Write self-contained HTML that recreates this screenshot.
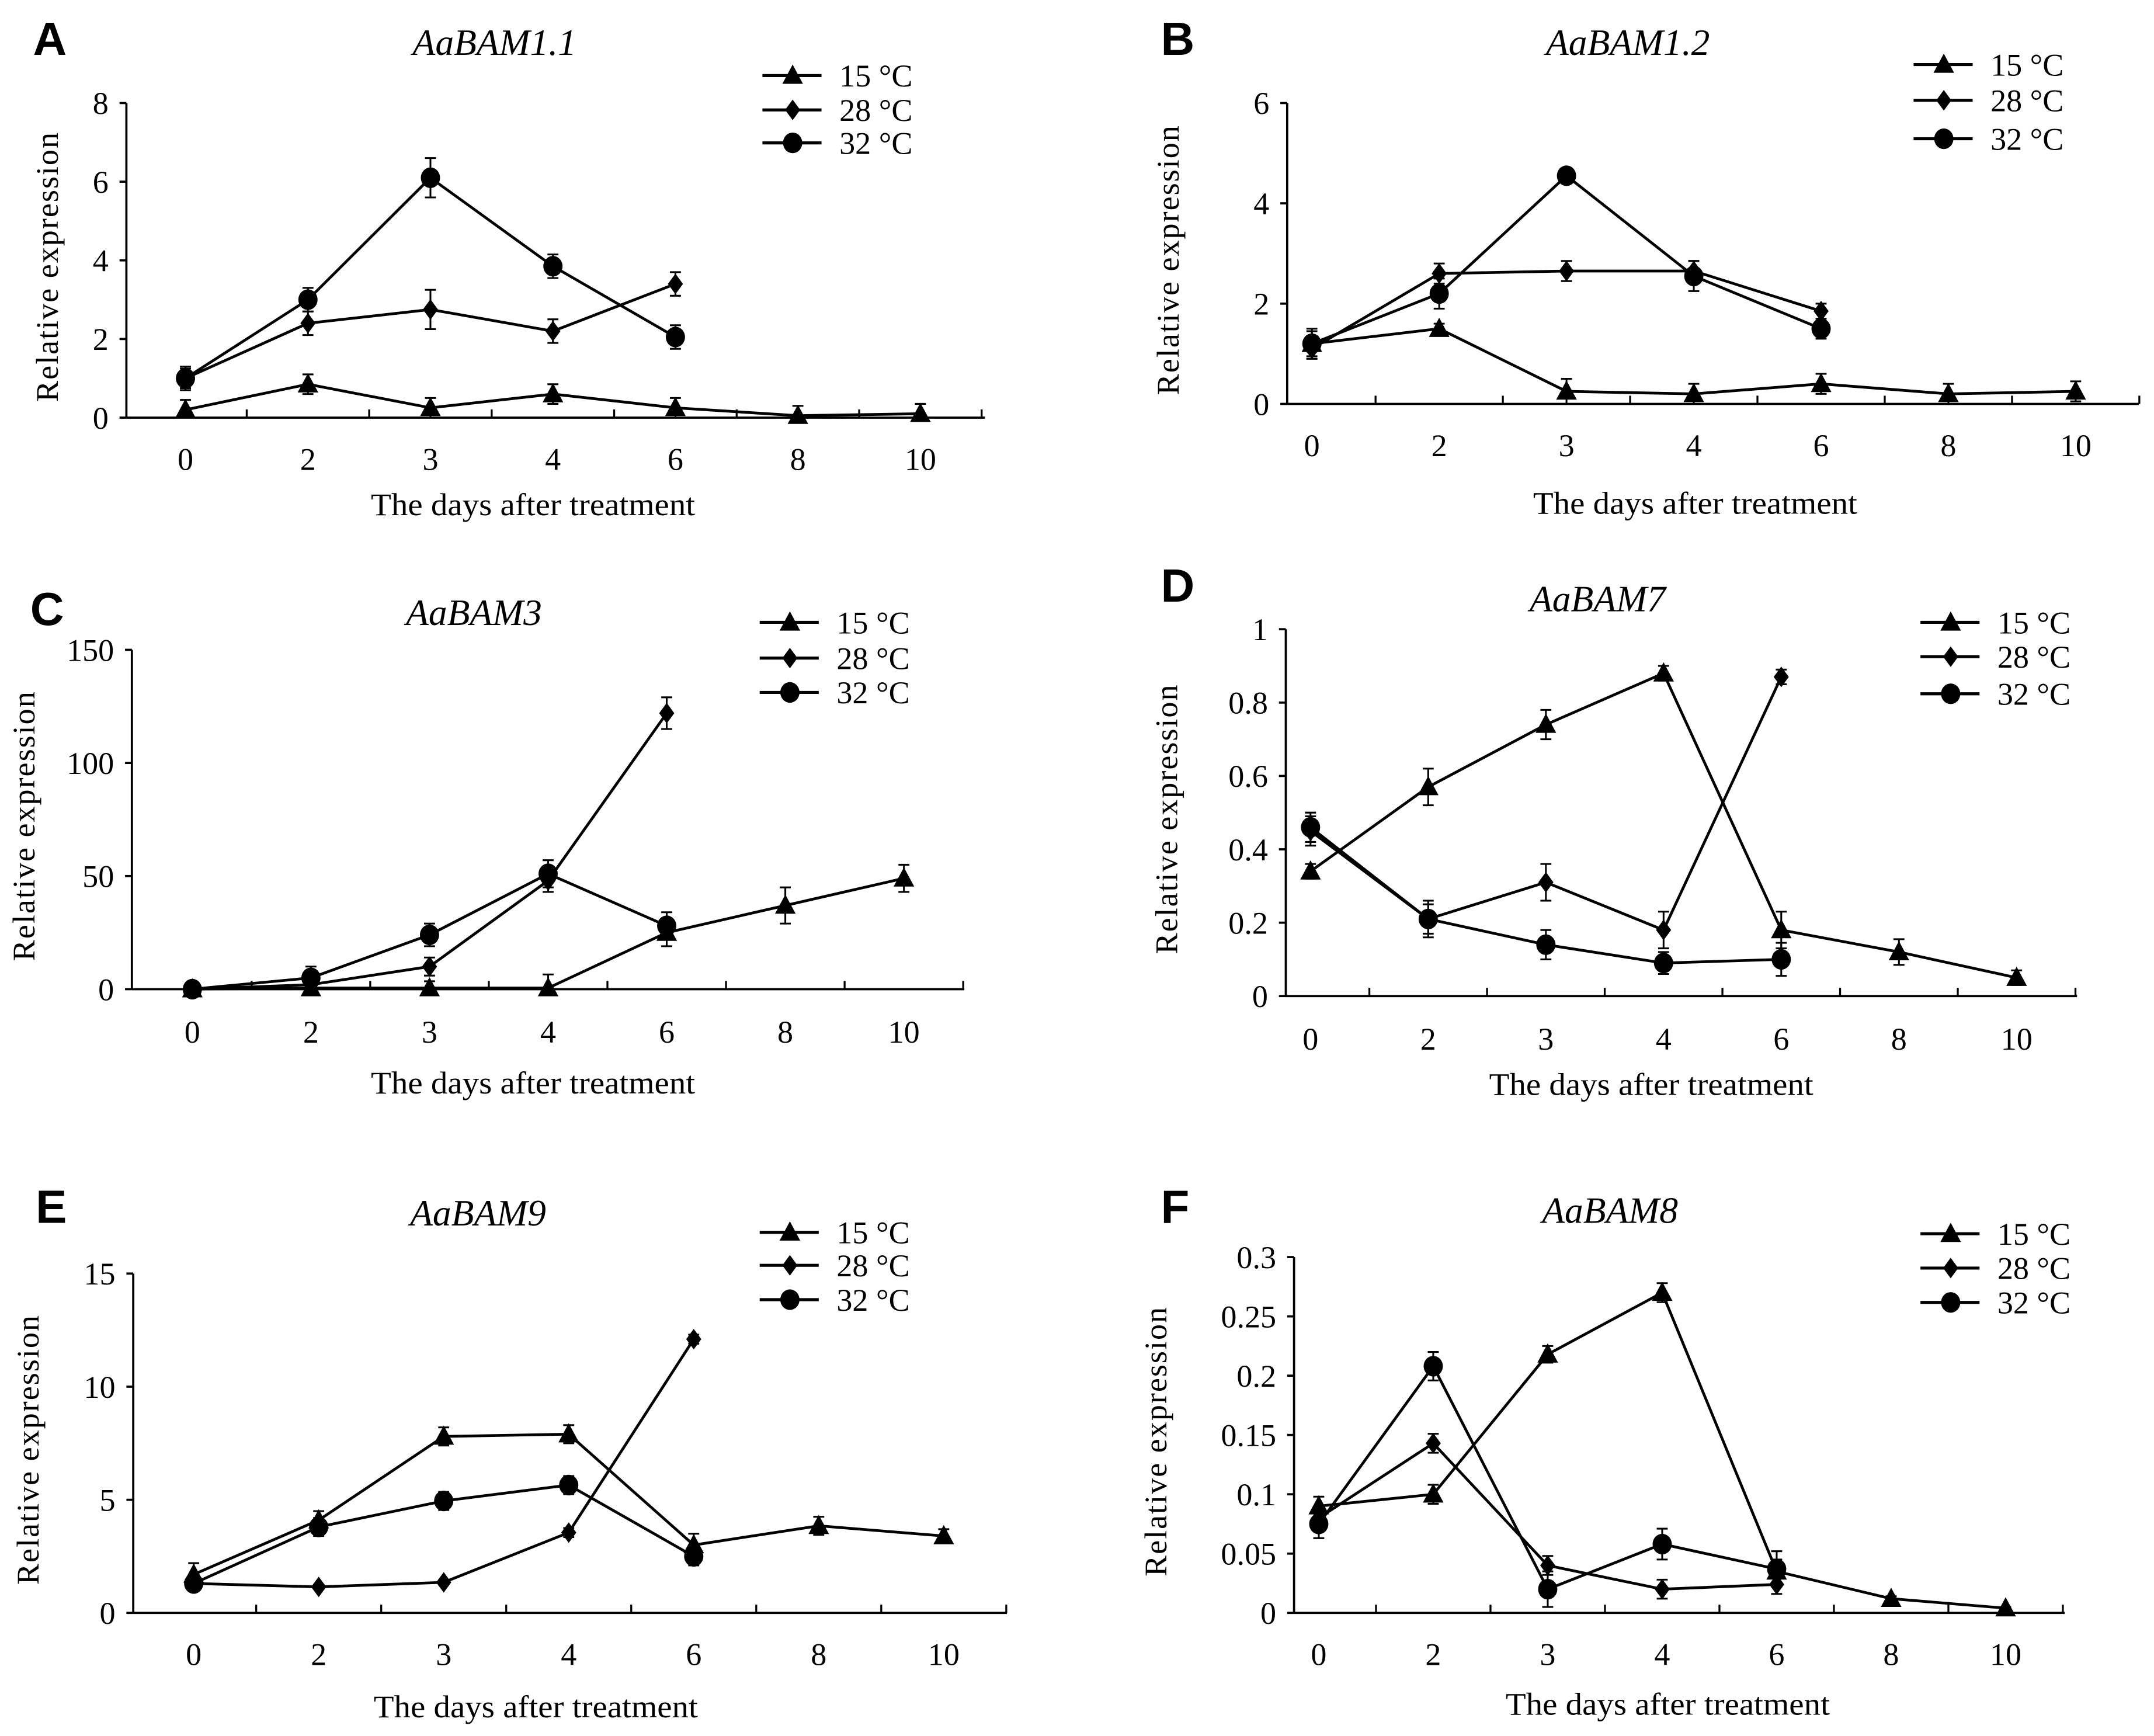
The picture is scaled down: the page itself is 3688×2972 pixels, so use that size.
<!DOCTYPE html>
<html><head><meta charset="utf-8"><style>
html,body{margin:0;padding:0;background:#fff;}
svg{display:block;}
</style></head><body>
<svg id="fig" xmlns="http://www.w3.org/2000/svg" width="3688" height="2972" viewBox="0 0 1568 1263.6">
<rect width="1568" height="1263.6" fill="#fff"/>
</svg>
<script>
const categories = ["0","2","3","4","6","8","10"];
const seriesNames = ["15 °C","28 °C","32 °C"];
// Panel A
const aT15=[0.2,0.85,0.25,0.6,0.25,0.05,0.1], aT15e=[0.25,0.25,0.25,0.25,0.25,0.25,0.25];
const aT28=[1.0,2.4,2.75,2.2,3.4], aT28e=[0.25,0.3,0.5,0.3,0.3];
const aT32=[1.0,3.0,6.1,3.85,2.05], aT32e=[0.3,0.3,0.5,0.3,0.3];
const aTicks=["0","2","4","6","8"];
// Panel B
const bT15=[1.2,1.5,0.25,0.2,0.4,0.2,0.25], bT15e=[0.25,0.1,0.25,0.2,0.2,0.2,0.2];
const bT28=[1.1,2.6,2.65,2.65,1.85], bT28e=[0.2,0.2,0.2,0.2,0.15];
const bT32=[1.2,2.2,4.55,2.55,1.5], bT32e=[0.3,0.3,0.15,0.3,0.2];
const bTicks=["0","2","4","6"];
// Panel C
const cT15=[0,0.5,0.5,0.5,25,37,49], cT15e=[2,2,3,6,6,8,6];
const cT28=[0,2,10,48,122], cT28e=[2,3,4,5,7];
const cT32=[0,5,24,51,28], cT32e=[2,5,5,6,6];
const cTicks=["0","50","100","150"];
// Panel D
const dT15=[0.34,0.57,0.74,0.88,0.18,0.12,0.05], dT15e=[0.02,0.05,0.04,0.02,0.05,0.035,0.02];
const dT28=[0.45,0.21,0.31,0.18,0.87], dT28e=[0.04,0.05,0.05,0.05,0.02];
const dT32=[0.46,0.21,0.14,0.09,0.1], dT32e=[0.04,0.04,0.04,0.03,0.045];
const dTicks=["0","0.2","0.4","0.6","0.8","1"];
// Panel E
const eT15=[1.7,4.1,7.8,7.9,3.0,3.85,3.4], eT15e=[0.5,0.4,0.4,0.4,0.5,0.4,0.3];
const eT28=[1.3,1.15,1.35,3.55,12.1], eT28e=[0.2,0.1,0.1,0.2,0.2];
const eT32=[1.3,3.8,4.95,5.65,2.5], eT32e=[0.3,0.4,0.4,0.4,0.4];
const eTicks=["0","5","10","15"];
// Panel F
const fT15=[0.09,0.1,0.218,0.27,0.035,0.012,0.004], fT15e=[0.008,0.008,0.007,0.008,0.01,0.002,0.001];
const fT28=[0.08,0.143,0.04,0.02,0.024], fT28e=[0.01,0.008,0.008,0.008,0.008];
const fT32=[0.075,0.208,0.02,0.058,0.037], fT32e=[0.012,0.012,0.015,0.013,0.015];
const fTicks=["0","0.05","0.1","0.15","0.2","0.25","0.3"];

const panels=[
 {id:"a",letter:"A",title:"AaBAM1.1",ax:92,y0:304,yTop:75,max:8,ticks:aTicks,c0:135,c10:670,axEnd:717,tx:360,ty:40,lx:24,ly:40,legX:555,legY:[55,80,104],xlX:388,xlY:375,tlY:342,ylX:42,data:[[aT15,aT15e],[aT28,aT28e],[aT32,aT32e]]},
 {id:"b",letter:"B",title:"AaBAM1.2",ax:937,y0:294,yTop:75,max:6,ticks:bTicks,c0:955,c10:1511,axEnd:1557,tx:1185,ty:40,lx:845,ly:40,legX:1393,legY:[47,73,101],xlX:1234,xlY:374,tlY:332,ylX:858,data:[[bT15,bT15e],[bT28,bT28e],[bT32,bT32e]]},
 {id:"c",letter:"C",title:"AaBAM3",ax:96,y0:720,yTop:473,max:150,ticks:cTicks,c0:140,c10:658,axEnd:702,tx:345,ty:455,lx:22,ly:455,legX:553,legY:[453,479,504],xlX:388,xlY:796,tlY:759,ylX:25,data:[[cT15,cT15e],[cT28,cT28e],[cT32,cT32e]]},
 {id:"d",letter:"D",title:"AaBAM7",ax:936,y0:725,yTop:458,max:1,ticks:dTicks,c0:954,c10:1468,axEnd:1512,tx:1163,ty:445,lx:845,ly:438,legX:1398,legY:[453,478,505],xlX:1202,xlY:797,tlY:764,ylX:857,data:[[dT15,dT15e],[dT28,dT28e],[dT32,dT32e]]},
 {id:"e",letter:"E",title:"AaBAM9",ax:97,y0:1174,yTop:927,max:15,ticks:eTicks,c0:141,c10:687,axEnd:733,tx:348,ty:892,lx:26,ly:890,legX:553,legY:[897,921,946],xlX:390,xlY:1250,tlY:1212,ylX:28,data:[[eT15,eT15e],[eT28,eT28e],[eT32,eT32e]]},
 {id:"f",letter:"F",title:"AaBAM8",ax:942,y0:1174,yTop:915,max:0.3,ticks:fTicks,c0:960,c10:1460,axEnd:1503,tx:1172,ty:890,lx:845,ly:890,legX:1398,legY:[898,923,948],xlX:1214,xlY:1248,tlY:1212,ylX:849,data:[[fT15,fT15e],[fT28,fT28e],[fT32,fT32e]]}
];
const NS="http://www.w3.org/2000/svg";
const svg=document.getElementById('fig');
function mk(tag,attrs,parent,text){const e=document.createElementNS(NS,tag);for(const k in attrs)e.setAttribute(k,attrs[k]);if(text!==undefined)e.textContent=text;parent.appendChild(e);return e;}
function marker(g,type,x,y){
  let m;
  if(type===0) m=mk('polygon',{points:`${x},${y-8} ${x-7.5},${y+6} ${x+7.5},${y+6}`,fill:'#000'},g);
  else if(type===1) m=mk('polygon',{points:`${x},${y-7.5} ${x+5.5},${y} ${x},${y+7.5} ${x-5.5},${y}`,fill:'#000'},g);
  else m=mk('ellipse',{cx:x,cy:y,rx:7,ry:7.5,fill:'#000'},g);
  return m;
}
const serif='"Liberation Serif", serif';
panels.forEach(p=>{
  const g=mk('g',{},svg);
  
  
  const step=(p.c10-p.c0)/6;
  const xs=i=>p.c0+i*step;
  const ys=v=>p.y0-(v/p.max)*(p.y0-p.yTop);
  const L=mk('text',{x:p.lx,y:p.ly,'font-family':'"Liberation Sans", sans-serif','font-size':34,'font-weight':'bold'},g,p.letter);
  
  const T=mk('text',{x:p.tx,y:p.ty,'text-anchor':'middle','font-family':serif,'font-style':'italic','font-size':27},g,p.title);
  
  const ya=mk('line',{x1:p.ax,y1:p.yTop,x2:p.ax,y2:p.y0,stroke:'#000','stroke-width':1.6},g);
  
  const xa=mk('line',{x1:p.ax,y1:p.y0,x2:p.axEnd,y2:p.y0,stroke:'#000','stroke-width':1.6},g);
  
  p.ticks.forEach((t,i)=>{
    const v=parseFloat(t);const y=ys(v);
    mk('line',{x1:p.ax-5,y1:y,x2:p.ax,y2:y,stroke:'#000','stroke-width':1.6},g);
    const tl=mk('text',{x:p.ax-13,y:y+8,'text-anchor':'end','font-family':serif,'font-size':23},g,t);
    
  });
  for(let i=0;i<=6;i++){
    const bx=xs(i)+step/2;
    mk('line',{x1:bx,y1:p.y0,x2:bx,y2:p.y0-6,stroke:'#000','stroke-width':1.4},g);
  }
  categories.forEach((c,i)=>{
    const tl=mk('text',{x:xs(i),y:p.tlY,'text-anchor':'middle','font-family':serif,'font-size':23},g,c);
    
  });
  const xl=mk('text',{x:p.xlX,y:p.xlY,'text-anchor':'middle','font-family':serif,'font-size':23,textLength:236,lengthAdjust:'spacingAndGlyphs'},g,'The days after treatment');
  
  const cy=(p.yTop+p.y0)/2+5;
  const yl=mk('text',{x:p.ylX,y:cy,'text-anchor':'middle','font-family':serif,'font-size':23,textLength:196,lengthAdjust:'spacing',transform:`rotate(-90 ${p.ylX} ${cy})`},g,'Relative  expression');
  
  p.data.forEach((sd,si)=>{
    const [vals,errs]=sd;
    const sg=mk('g',{},g);
    
    
    const pts=vals.map((v,i)=>xs(i)+','+ys(v)).join(' ');
    mk('polyline',{points:pts,fill:'none',stroke:'#000','stroke-width':2},sg);
    vals.forEach((v,i)=>{
      const x=xs(i),e=errs[i];
      const y1=ys(v+e),y2=ys(Math.max(0,v-e));
      mk('line',{x1:x,y1:y1,x2:x,y2:y2,stroke:'#000','stroke-width':1.3},sg);
      mk('line',{x1:x-4,y1:y1,x2:x+4,y2:y1,stroke:'#000','stroke-width':1.3},sg);
      mk('line',{x1:x-4,y1:y2,x2:x+4,y2:y2,stroke:'#000','stroke-width':1.3},sg);
      const m=marker(sg,si,x,ys(v));
      
      
    });
  });
  const lg=mk('g',{},g);
  
  
  seriesNames.forEach((n,si)=>{
    const y=p.legY[si];
    mk('line',{x1:p.legX,y1:y,x2:p.legX+43,y2:y,stroke:'#000','stroke-width':2.2},lg);
    marker(lg,si,p.legX+22,y);
    const lt=mk('text',{x:p.legX+56,y:y+8,'font-family':serif,'font-size':23},lg,n);
    
  });
});
</script>
</body></html>
